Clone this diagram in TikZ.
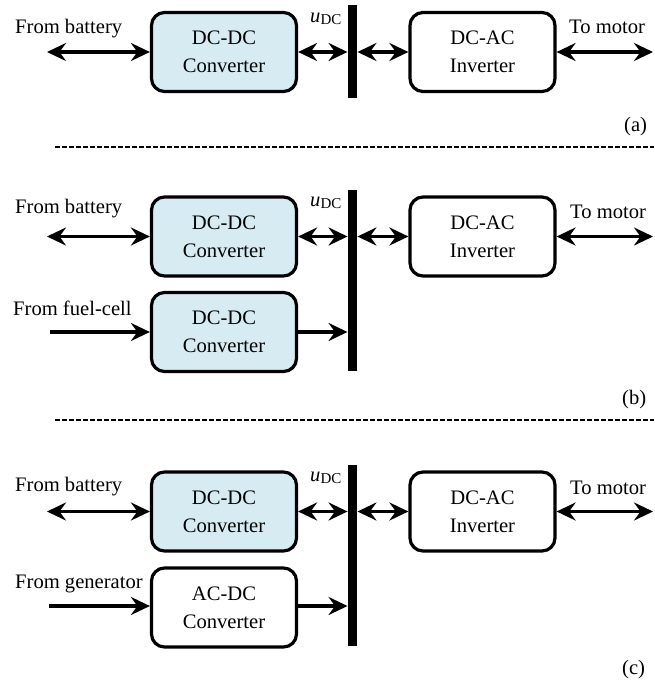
\documentclass[tikz,border=0pt]{standalone}
\usepackage{fontspec}
\setmainfont{LiberationSerif}[Extension=.ttf, UprightFont=*-Regular,
  ItalicFont=*-Italic, BoldFont=*-Bold, BoldItalicFont=*-BoldItalic]
\usetikzlibrary{arrows.meta}

\definecolor{convfill}{RGB}{215,236,242}

\tikzset{
  block/.style={draw, line width=3.2pt, rounded corners=13pt,
    minimum width=145pt, minimum height=79pt, align=center, inner sep=0pt,
    font=\rmfamily\fontsize{20.6}{28}\selectfont},
  dcblock/.style={block, fill=convfill},
  whiteblock/.style={block, fill=white},
  busbar/.style={fill=black, inner sep=0pt, minimum width=9.5pt},
  tip/.tip={Stealth[length=19pt, width=18pt, inset=6.5pt]},
  flow/.style={line width=3.5pt, -tip},
  biflow/.style={line width=3.5pt, tip-tip},
  lbl/.style={anchor=base west, inner sep=0pt, font=\rmfamily\fontsize{20.6}{24}\selectfont},
  sep/.style={line width=2.6pt, dash pattern=on 4.5pt off 2.5pt},
}

\newcommand{\udc}{\textit{u}\raisebox{-2.5pt}{\fontsize{15}{15}\selectfont DC}}

\begin{document}
\begin{tikzpicture}[x=1pt, y=-1pt]
  \useasboundingbox (0,0) rectangle (654,686);

  % ---------------- (a) ----------------
  \node[dcblock] (a-dc) at (224,52) {DC-DC\\Converter};
  \node[whiteblock] (a-inv) at (482.5,52) {DC-AC\\Inverter};
  \node[busbar, minimum height=93pt] (a-bus) at (352.5,51.5) {};
  \coordinate (a-src) at (47,52);
  \coordinate (a-mot) at (653,52);
  \draw[biflow] (a-src) -- (a-dc.west);
  \draw[biflow] (a-dc.east) -- (a-dc.east -| a-bus.west);
  \draw[biflow] (a-inv.west -| a-bus.east) -- (a-inv.west);
  \draw[biflow] (a-inv.east) -- (a-mot);
  \node[lbl] (a-bat-l) at (15,33) {From battery};
  \node[lbl] (a-mot-l) at (569,33) {To motor};
  \node[lbl] (a-udc) at (310,22) {\udc};
  \node[lbl] (a-tag) at (624,131) {(a)};

  \coordinate (sep1-l) at (55,147);
  \coordinate (sep1-r) at (654,147);
  \draw[sep] (sep1-l) -- (sep1-r);

  % ---------------- (b) ----------------
  \node[dcblock] (b-dc) at (224,236.5) {DC-DC\\Converter};
  \node[dcblock] (b-fc) at (224,332) {DC-DC\\Converter};
  \node[whiteblock] (b-inv) at (482.5,236.5) {DC-AC\\Inverter};
  \node[busbar, minimum height=181pt] (b-bus) at (352.5,280.5) {};
  \coordinate (b-src) at (47,236.5);
  \coordinate (b-fcsrc) at (50,332);
  \coordinate (b-mot) at (653,236.5);
  \draw[biflow] (b-src) -- (b-dc.west);
  \draw[biflow] (b-dc.east) -- (b-dc.east -| b-bus.west);
  \draw[flow] (b-fcsrc) -- (b-fc.west);
  \draw[flow] (b-fc.east) -- (b-fc.east -| b-bus.west);
  \draw[biflow] (b-inv.west -| b-bus.east) -- (b-inv.west);
  \draw[biflow] (b-inv.east) -- (b-mot);
  \node[lbl] (b-bat-l) at (15,213) {From battery};
  \node[lbl] (b-fc-l) at (13,315) {From fuel-cell};
  \node[lbl] (b-mot-l) at (570,218) {To motor};
  \node[lbl] (b-udc) at (310,206) {\udc};
  \node[lbl] (b-tag) at (622,404) {(b)};

  \coordinate (sep2-l) at (55,420);
  \coordinate (sep2-r) at (654,420);
  \draw[sep] (sep2-l) -- (sep2-r);

  % ---------------- (c) ----------------
  \node[dcblock] (c-dc) at (224,511.5) {DC-DC\\Converter};
  \node[whiteblock] (c-gen) at (224,607.5) {AC-DC\\Converter};
  \node[whiteblock] (c-inv) at (482.5,511.5) {DC-AC\\Inverter};
  \node[busbar, minimum height=181pt] (c-bus) at (352.5,555.5) {};
  \coordinate (c-src) at (47,511.5);
  \coordinate (c-gensrc) at (49,606);
  \coordinate (c-mot) at (653,511.5);
  \draw[biflow] (c-src) -- (c-dc.west);
  \draw[biflow] (c-dc.east) -- (c-dc.east -| c-bus.west);
  \draw[flow] (c-gensrc) -- (c-gensrc -| c-gen.west);
  \draw[flow] (c-gensrc -| c-gen.east) -- (c-gensrc -| c-bus.west);
  \draw[biflow] (c-inv.west -| c-bus.east) -- (c-inv.west);
  \draw[biflow] (c-inv.east) -- (c-mot);
  \node[lbl] (c-bat-l) at (15,491) {From battery};
  \node[lbl] (c-gen-l) at (15,588) {From generator};
  \node[lbl] (c-mot-l) at (570,494) {To motor};
  \node[lbl] (c-udc) at (310,481) {\udc};
  \node[lbl] (c-tag) at (622,674) {(c)};
\end{tikzpicture}
\end{document}
